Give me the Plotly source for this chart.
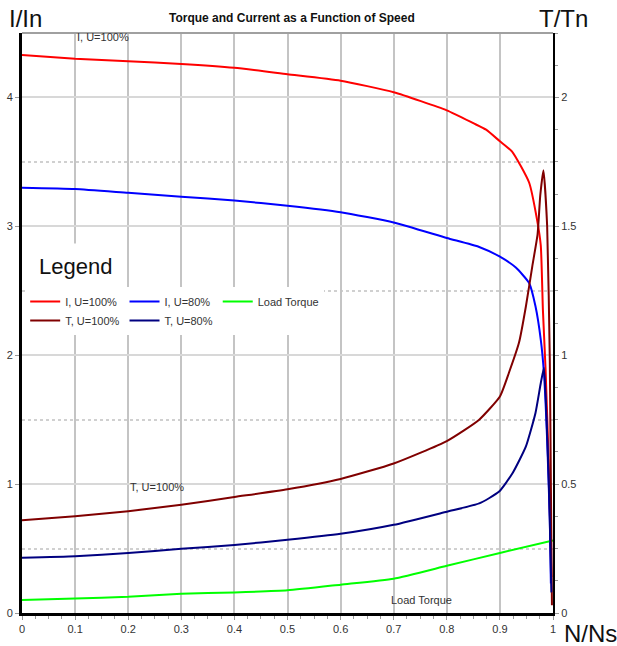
import plotly.graph_objects as go

# Relative speed N/Ns and curve values for each series
speed_i100 = [0, 0.1, 0.2, 0.3, 0.4, 0.5, 0.6, 0.7, 0.8, 0.85, 0.874, 0.9, 0.923, 0.955, 0.97, 0.977, 0.981, 0.986, 0.992, 0.997]
current_i100 = [4.33, 4.30, 4.28, 4.26, 4.23, 4.18, 4.13, 4.04, 3.90, 3.80, 3.75, 3.66, 3.58, 3.34, 3.05, 2.85, 2.35, 1.89, 1.15, 0.28]

speed_i80 = [0, 0.1, 0.2, 0.3, 0.4, 0.5, 0.6, 0.7, 0.8, 0.861, 0.9, 0.93, 0.955, 0.967, 0.977, 0.983, 0.989, 0.994, 0.996]
current_i80 = [3.30, 3.29, 3.26, 3.23, 3.20, 3.16, 3.11, 3.03, 2.91, 2.84, 2.765, 2.68, 2.56, 2.38, 2.12, 1.86, 1.34, 0.72, 0.23]

speed_t100 = [0, 0.1, 0.2, 0.3, 0.4, 0.5, 0.6, 0.7, 0.8, 0.861, 0.9, 0.917, 0.936, 0.949, 0.961, 0.971, 0.976, 0.982, 0.989, 0.994, 0.998]
torque_t100 = [0.36, 0.375, 0.395, 0.42, 0.45, 0.48, 0.52, 0.58, 0.667, 0.75, 0.84, 0.932, 1.049, 1.19, 1.345, 1.47, 1.62, 1.718, 1.50, 0.98, 0.03]

speed_t80 = [0, 0.1, 0.2, 0.3, 0.4, 0.5, 0.6, 0.7, 0.8, 0.861, 0.898, 0.924, 0.949, 0.967, 0.977, 0.983, 0.988, 0.993, 0.997]
torque_t80 = [0.214, 0.22, 0.233, 0.249, 0.264, 0.284, 0.307, 0.342, 0.393, 0.425, 0.47, 0.543, 0.646, 0.776, 0.892, 0.951, 0.75, 0.45, 0.08]

speed_load = [0, 0.1, 0.2, 0.3, 0.4, 0.5, 0.6, 0.7, 0.8, 0.9, 1.0]
torque_load = [0.05, 0.056, 0.063, 0.075, 0.08, 0.088, 0.11, 0.133, 0.183, 0.233, 0.281]

x_ticks = [0, 0.1, 0.2, 0.3, 0.4, 0.5, 0.6, 0.7, 0.8, 0.9, 1]
x_tick_labels = ["0", "0.1", "0.2", "0.3", "0.4", "0.5", "0.6", "0.7", "0.8", "0.9", "1"]

FONT = "Liberation Sans, Arial, sans-serif"
TICK_COLOR = "#333333"

fig = go.Figure()

series = [
    ("I, U=100%", speed_i100, current_i100, "#ff0000", "y", "g1"),
    ("I, U=80%", speed_i80, current_i80, "#0000ff", "y", "g2"),
    ("Load Torque", speed_load, torque_load, "#00ff00", "y2", "g3"),
    ("T, U=100%", speed_t100, torque_t100, "#800000", "y2", "g1"),
    ("T, U=80%", speed_t80, torque_t80, "#000080", "y2", "g2"),
]
for name, xs, ys, color, axis, group in series:
    fig.add_trace(go.Scatter(
        x=xs, y=ys, name=name, mode="lines", yaxis=axis, legendgroup=group,
        line=dict(color=color, width=2, shape="spline", smoothing=0.5),
    ))

fig.update_layout(
    width=617, height=646,
    margin=dict(l=22, r=64, t=33, b=33, autoexpand=False),
    paper_bgcolor="white", plot_bgcolor="white",
    font=dict(family=FONT, size=11, color=TICK_COLOR),
    showlegend=True,
    legend=dict(
        orientation="h", traceorder="grouped", tracegroupgap=0,
        x=0.006, y=0.562, xanchor="left", yanchor="top",
        bgcolor="white", borderwidth=0,
        font=dict(family=FONT, size=11, color=TICK_COLOR),
    ),
    xaxis=dict(
        range=[0, 1], tickvals=x_ticks, ticktext=x_tick_labels,
        showgrid=True, gridcolor="#c4c4c4", gridwidth=2,
        showline=True, linecolor="black", linewidth=3,
        ticks="outside", ticklen=4, tickcolor="#999999",
        minor=dict(dtick=0.025, ticks="outside", ticklen=3, tickcolor="#999999", showgrid=False),
        zeroline=False, fixedrange=True, automargin=False,
    ),
    yaxis=dict(
        range=[0, 4.5], dtick=1,
        showgrid=True, gridcolor="#d8d8d8", gridwidth=2,
        showline=True, linecolor="black", linewidth=3,
        ticks="outside", ticklen=4, tickcolor="#999999",
        minor=dict(dtick=0.5, showgrid=True, griddash="dot", gridcolor="#d0d0d0", gridwidth=2, ticks=""),
        zeroline=False, fixedrange=True, automargin=False,
    ),
    yaxis2=dict(
        range=[0, 2.25], dtick=0.5, overlaying="y", side="right",
        showgrid=False,
        showline=True, linecolor="black", linewidth=2,
        ticks="outside", ticklen=4, tickcolor="#999999",
        minor=dict(dtick=0.125, ticks="outside", ticklen=3, tickcolor="#999999"),
        zeroline=False, fixedrange=True, automargin=False,
    ),
)

# Thin grey frame along the top of the plot area
fig.add_shape(type="line", xref="paper", yref="paper", x0=0, x1=1, y0=1, y1=1,
              line=dict(color="#a0a0a0", width=2))

annotations = [
    dict(text="<b>Torque and Current as a Function of Speed</b>", x=0.508, y=1.026,
         xanchor="center", yanchor="middle", font=dict(size=12, color="#111111")),
    dict(text="I/In", x=-0.028, y=1.025, xanchor="left", yanchor="middle",
         font=dict(size=24, color="#111111")),
    dict(text="T/Tn", x=0.970, y=1.025, xanchor="left", yanchor="middle",
         font=dict(size=24, color="#111111")),
    dict(text="N/Ns", x=1.017, y=-0.036, xanchor="left", yanchor="middle",
         font=dict(size=24, color="#111111")),
    dict(text="Legend", x=0.0113, y=0.5966, xanchor="left", yanchor="middle",
         bgcolor="white", borderpad=10, font=dict(size=22, color="#111111")),
]
for a in annotations:
    fig.add_annotation(xref="paper", yref="paper", showarrow=False,
                       font_family=FONT, **{k: v for k, v in a.items()})

# Curve labels placed in data coordinates
fig.add_annotation(text="I, U=100%", x=0.1, y=4.47, xref="x", yref="y", showarrow=False,
                   xanchor="left", yanchor="middle", font=dict(family=FONT, size=11, color=TICK_COLOR))
fig.add_annotation(text="T, U=100%", x=0.2, y=0.98, xref="x", yref="y", showarrow=False,
                   xanchor="left", yanchor="middle", font=dict(family=FONT, size=11, color=TICK_COLOR))
fig.add_annotation(text="Load Torque", x=0.692, y=0.10, xref="x", yref="y", showarrow=False,
                   xanchor="left", yanchor="middle", font=dict(family=FONT, size=11, color=TICK_COLOR))

fig.write_html("out.html")
